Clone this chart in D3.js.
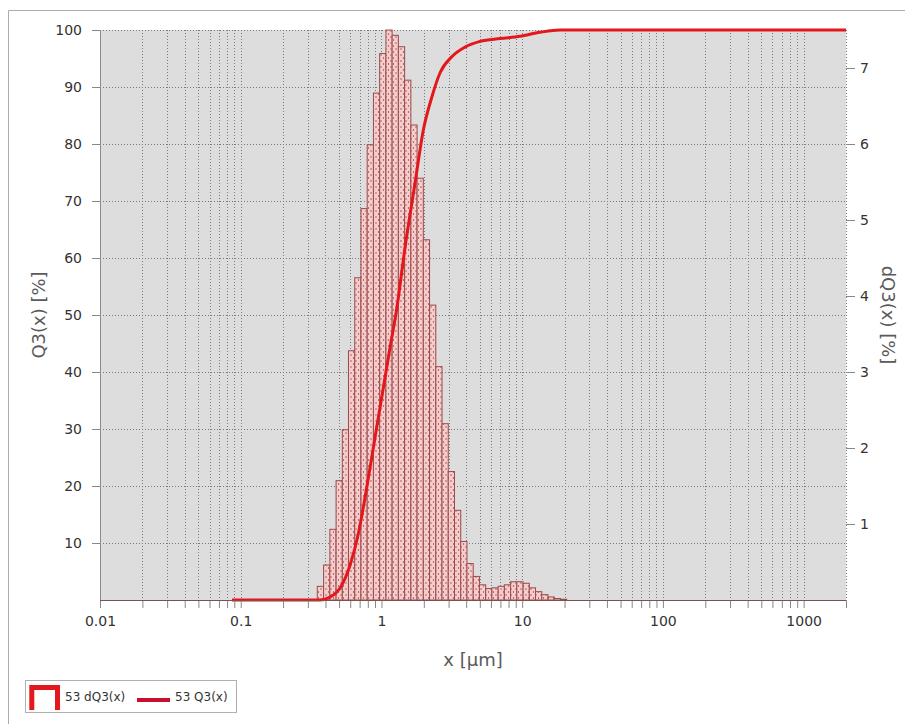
<!DOCTYPE html>
<html>
<head>
<meta charset="utf-8">
<script src="https://cdn.jsdelivr.net/npm/d3@7"></script>
<style>
  body { margin: 0; background: #fff; }
  svg { display: block; font-family: "DejaVu Sans", sans-serif; }
</style>
</head>
<body>
<figure style="margin:0"></figure>
<script>
// histogram bin edges [µm] (log spaced bins)
var binEdges = [0.350, 0.388, 0.430, 0.476, 0.527, 0.583, 0.646, 0.715, 0.792, 0.877,
                0.971, 1.076, 1.191, 1.319, 1.461, 1.618, 1.791, 1.984, 2.197, 2.433,
                2.694, 2.983, 3.304, 3.659, 4.052, 4.487, 4.968, 5.502, 6.093, 6.747,
                7.472, 8.274, 9.163, 10.15, 11.24, 12.44, 13.78, 15.26, 16.90, 18.71, 20.72];
// dQ3 per bin [%]
var dQ3 = [0.18, 0.46, 0.93, 1.57, 2.24, 3.28, 4.24, 5.15, 5.99, 6.67,
           7.19, 7.50, 7.43, 7.28, 6.84, 6.25, 5.55, 4.74, 3.88, 3.07,
           2.32, 1.69, 1.18, 0.77, 0.48, 0.31, 0.20, 0.15, 0.16, 0.18,
           0.20, 0.24, 0.24, 0.22, 0.16, 0.11, 0.07, 0.04, 0.02, 0.01];

// cumulative curve Q3(x)
var q3x = [0.0867, 0.366, 0.431, 0.508, 0.598, 0.682, 0.777, 0.901, 1.002,
           1.151, 1.284, 1.472, 1.734, 1.986, 2.278, 2.61, 3.16, 3.93, 5.02,
           6.96, 9.66, 13.4, 18.6, 2000];
var q3y = [0, 0, 0.5, 2.1, 6.1, 11.4, 19.0, 28.6, 35.4,
           44.3, 51.1, 61.9, 73.2, 82.5, 88.2, 92.5, 95.3, 97.0, 98.0,
           98.5, 98.9, 99.6, 100, 100];

var xTickLabels = ["0.01", "0.1", "1", "10", "100", "1000"];
var leftTicks = [10, 20, 30, 40, 50, 60, 70, 80, 90, 100];
var rightTicks = [1, 2, 3, 4, 5, 6, 7];

var W = 905, H = 724;
var margin = {top: 30, right: 59, bottom: 124, left: 100};
var x0 = margin.left, x1 = W - margin.right, y0 = H - margin.bottom, y1 = margin.top;

var svg = d3.select("figure").append("svg")
    .attr("width", W)
    .attr("height", H);

// dotted fill for the histogram bars
var defs = svg.append("defs");
var pat = defs.append("pattern")
    .attr("id", "dots")
    .attr("patternUnits", "userSpaceOnUse")
    .attr("width", 5).attr("height", 6);
pat.append("rect").attr("width", 5).attr("height", 6).attr("fill", "#f6cccc");
pat.append("circle").attr("cx", 1).attr("cy", 1).attr("r", 0.65).attr("fill", "#8a3c3c");
pat.append("circle").attr("cx", 3.5).attr("cy", 4).attr("r", 0.65).attr("fill", "#8a3c3c");

// outer frame
svg.append("path")
    .attr("d", "M8.5," + H + "V10.5H" + W)
    .attr("fill", "none")
    .attr("stroke", "#a9a9b8");

var x = d3.scaleLog().domain([0.01, 2000]).range([x0, x1]);
var yL = d3.scaleLinear().domain([0, 100]).range([y0, y1]);
var yR = d3.scaleLinear().domain([0, 7.5]).range([y0, y1]);

// plot background
svg.append("rect")
    .attr("x", x0).attr("y", y1)
    .attr("width", x1 - x0).attr("height", y0 - y1)
    .attr("fill", "#dddddd");

var xTicks = x.ticks().filter(function(d) { return d <= 2000; });

// grid
var grid = svg.append("g").attr("class", "grid")
    .attr("stroke", "#7a7a7a")
    .attr("stroke-dasharray", "1,2");
grid.selectAll("line.v").data(xTicks).enter().append("line")
    .attr("x1", function(d) { return Math.round(x(d)) + 0.5; })
    .attr("x2", function(d) { return Math.round(x(d)) + 0.5; })
    .attr("y1", y1).attr("y2", y0);
grid.selectAll("line.h").data(leftTicks).enter().append("line")
    .attr("x1", x0).attr("x2", x1)
    .attr("y1", function(d) { return Math.round(yL(d)) + 0.5; })
    .attr("y2", function(d) { return Math.round(yL(d)) + 0.5; });
grid.append("line")
    .attr("x1", x1 + 0.5).attr("x2", x1 + 0.5)
    .attr("y1", y1).attr("y2", y0);

// histogram
svg.append("g").selectAll("rect").data(dQ3).enter().append("rect")
    .attr("x", function(d, i) { return x(binEdges[i]); })
    .attr("width", function(d, i) { return x(binEdges[i + 1]) - x(binEdges[i]); })
    .attr("y", function(d) { return yR(d); })
    .attr("height", function(d) { return y0 - yR(d); })
    .attr("fill", "url(#dots)")
    .attr("stroke", "#9c4b4b")
    .attr("stroke-width", 1);

// Q3 curve
var q3 = q3x.map(function(d, i) { return {x: d, y: q3y[i]}; });
var line = d3.line()
    .x(function(d) { return x(d.x); })
    .y(function(d) { return yL(d.y); })
    .curve(d3.curveMonotoneX);
svg.append("path")
    .datum(q3)
    .attr("d", line)
    .attr("fill", "none")
    .attr("stroke", "#e3171c")
    .attr("stroke-width", 3);

// axes
var xAxis = d3.axisBottom(x)
    .tickValues(xTicks)
    .tickSize(8)
    .tickFormat(function(d) {
        var s = d3.format("~g")(d);
        return xTickLabels.indexOf(s) >= 0 ? s : "";
    });
var gx = svg.append("g")
    .attr("transform", "translate(0," + y0 + ")")
    .call(xAxis);

var gl = svg.append("g")
    .attr("transform", "translate(" + x0 + ",0)")
    .call(d3.axisLeft(yL).tickValues(leftTicks).tickSize(8).tickPadding(10));

var gr = svg.append("g")
    .attr("transform", "translate(" + x1 + ",0)")
    .call(d3.axisRight(yR).tickValues(rightTicks).tickSize(9).tickPadding(5));

[gx, gl, gr].forEach(function(g) {
    g.selectAll("text")
        .attr("fill", "#333")
        .style("font-size", "14px")
        .style("font-family", "\"DejaVu Sans\", sans-serif");
    g.selectAll(".tick line").attr("stroke", "#888");
    g.select(".domain").attr("stroke", "none");
});
gx.selectAll("text").attr("dy", "1.1em");

// axis lines
svg.append("line")
    .attr("x1", x0).attr("x2", x1)
    .attr("y1", y0 + 0.5).attr("y2", y0 + 0.5)
    .attr("stroke", "#7a5050");
svg.append("line")
    .attr("x1", x0 + 0.5).attr("x2", x0 + 0.5)
    .attr("y1", y1).attr("y2", y0)
    .attr("stroke", "#8a8a8a");

// axis titles
svg.append("text")
    .attr("transform", "translate(45," + (y0 + y1) / 2 + ") rotate(-90)")
    .attr("text-anchor", "middle")
    .attr("fill", "#5a5a5a")
    .style("font-size", "18px")
    .text("Q3(x) [%]");
svg.append("text")
    .attr("transform", "translate(882," + (y0 + y1) / 2 + ") rotate(90)")
    .attr("text-anchor", "middle")
    .attr("fill", "#5a5a5a")
    .style("font-size", "18px")
    .text("dQ3(x) [%]");
svg.append("text")
    .attr("x", (x0 + x1) / 2)
    .attr("y", 666)
    .attr("text-anchor", "middle")
    .attr("fill", "#5a5a5a")
    .style("font-size", "18px")
    .text("x [µm]");

// legend
var lg = svg.append("g");
lg.append("rect")
    .attr("x", 25.5).attr("y", 680.5)
    .attr("width", 211).attr("height", 32)
    .attr("fill", "#fff")
    .attr("stroke", "#b0b0b0");
lg.append("path")
    .attr("d", "M31.8,710V687.5H57.5V710")
    .attr("fill", "none")
    .attr("stroke", "#e3171c")
    .attr("stroke-width", 5);
lg.append("text")
    .attr("x", 65).attr("y", 701)
    .attr("fill", "#333")
    .style("font-size", "12px")
    .text("53 dQ3(x)");
lg.append("line")
    .attr("x1", 137).attr("x2", 170)
    .attr("y1", 700).attr("y2", 700)
    .attr("stroke", "#c8102e")
    .attr("stroke-width", 4);
lg.append("text")
    .attr("x", 175).attr("y", 701)
    .attr("fill", "#333")
    .style("font-size", "12px")
    .text("53 Q3(x)");
</script>
</body>
</html>
